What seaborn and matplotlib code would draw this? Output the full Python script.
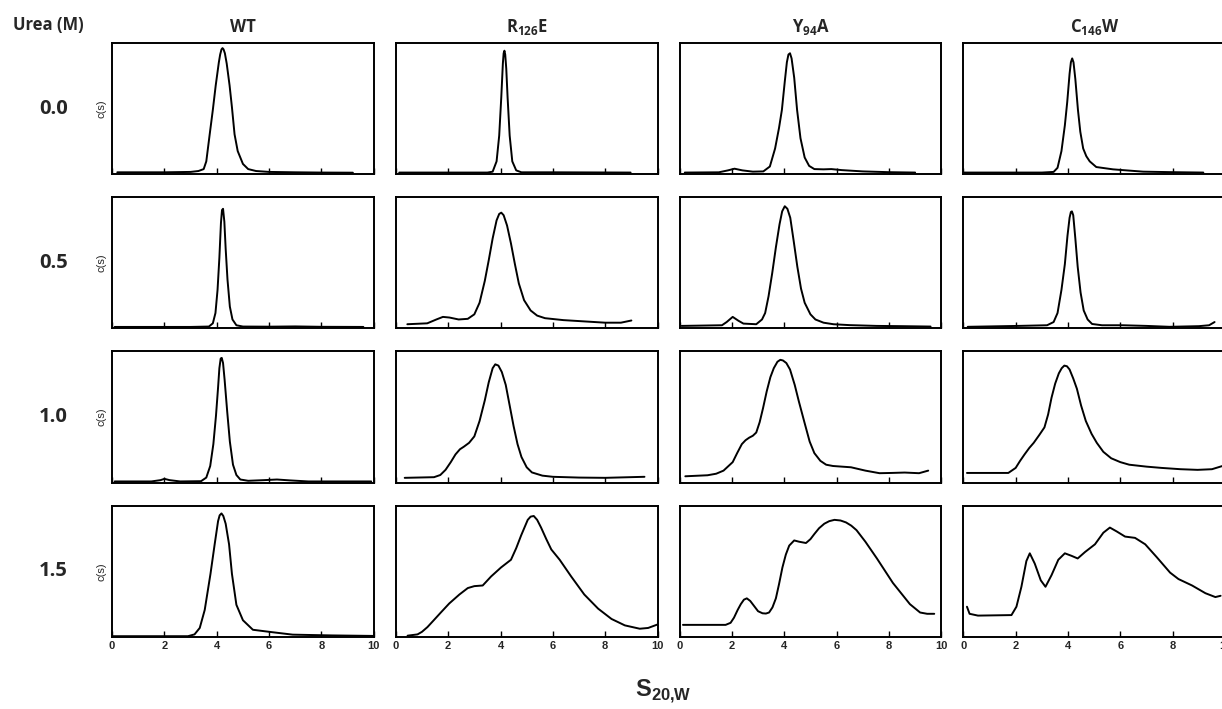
import matplotlib
matplotlib.use("Agg")
import matplotlib.pyplot as plt
import seaborn as sns

# c(s) distributions, y as fraction of panel height
wt_00_x = [0.2, 2.0, 3.0, 3.3, 3.5, 3.6, 3.73, 3.85, 3.96, 4.08, 4.13, 4.18, 4.22, 4.26, 4.31, 4.38, 4.49, 4.58, 4.68, 4.8, 5.0, 5.2, 5.5, 6.0, 7.0, 8.0, 9.2]
wt_00_y = [0.015, 0.015, 0.018, 0.025, 0.04, 0.1, 0.31, 0.5, 0.69, 0.87, 0.93, 0.97, 0.98, 0.97, 0.94, 0.86, 0.69, 0.52, 0.31, 0.18, 0.08, 0.04, 0.025, 0.018, 0.015, 0.013, 0.012]
wt_05_x = [0.1, 3.0, 3.7, 3.85, 3.95, 4.03, 4.1, 4.16, 4.2, 4.24, 4.29, 4.34, 4.41, 4.5, 4.6, 4.75, 5.0, 6.0, 7.0, 8.0, 9.6]
wt_05_y = [0.012, 0.012, 0.015, 0.04, 0.12, 0.3, 0.55, 0.82, 0.92, 0.93, 0.83, 0.62, 0.38, 0.17, 0.07, 0.025, 0.015, 0.014, 0.016, 0.013, 0.012]
wt_10_x = [0.1, 1.5, 1.85, 2.0, 2.2, 2.6, 3.4, 3.6, 3.75, 3.87, 3.97, 4.05, 4.1, 4.15, 4.19, 4.24, 4.3, 4.4, 4.5, 4.62, 4.75, 4.9, 5.2, 5.8, 6.3, 6.8, 7.5, 9.9]
wt_10_y = [0.01, 0.01, 0.02, 0.03, 0.02, 0.01, 0.012, 0.04, 0.13, 0.3, 0.52, 0.74, 0.89, 0.965, 0.97, 0.93, 0.8, 0.55, 0.32, 0.14, 0.06, 0.025, 0.015, 0.02, 0.025, 0.018, 0.01, 0.01]
wt_15_x = [0.0, 2.9, 3.15, 3.35, 3.54, 3.76, 3.92, 4.05, 4.11, 4.18, 4.25, 4.34, 4.47, 4.58, 4.75, 5.0, 5.38, 6.0, 6.9, 8.4, 10.0]
wt_15_y = [0.006, 0.006, 0.02, 0.07, 0.21, 0.49, 0.72, 0.9, 0.945, 0.96, 0.94, 0.88, 0.72, 0.49, 0.25, 0.13, 0.056, 0.04, 0.018, 0.012, 0.008]

r126e_00_x = [0.13, 3.5, 3.7, 3.85, 3.95, 4.03, 4.09, 4.12, 4.15, 4.18, 4.22, 4.27, 4.35, 4.45, 4.6, 4.8, 6.0, 8.97]
r126e_00_y = [0.013, 0.013, 0.02, 0.1, 0.3, 0.6, 0.86, 0.94, 0.96, 0.93, 0.82, 0.6, 0.3, 0.1, 0.03, 0.015, 0.015, 0.013]
r126e_05_x = [0.44, 1.2, 1.55, 1.8, 2.05, 2.4, 2.75, 3.0, 3.2, 3.4, 3.55, 3.7, 3.85, 3.95, 4.03, 4.12, 4.25, 4.4, 4.55, 4.7, 4.9, 5.15, 5.4, 5.7, 6.4, 7.2, 8.0, 8.6, 9.0]
r126e_05_y = [0.033, 0.04, 0.07, 0.09, 0.085, 0.07, 0.075, 0.11, 0.2, 0.37, 0.53, 0.7, 0.84, 0.89, 0.9, 0.88, 0.8, 0.66, 0.5, 0.35, 0.22, 0.14, 0.1, 0.08, 0.065, 0.055, 0.045, 0.045, 0.062]
r126e_10_x = [0.34, 1.46, 1.7, 1.9, 2.1, 2.28, 2.45, 2.6, 2.8, 3.0, 3.2, 3.4, 3.55, 3.7, 3.8, 3.92, 4.05, 4.2, 4.35, 4.5, 4.65, 4.8, 5.0, 5.2, 5.6, 6.0, 7.0, 8.0, 9.5]
r126e_10_y = [0.038, 0.043, 0.06, 0.1, 0.16, 0.22, 0.26, 0.28, 0.31, 0.36, 0.48, 0.64, 0.78, 0.89, 0.92, 0.91, 0.86, 0.76, 0.6, 0.44, 0.3, 0.2, 0.12, 0.08, 0.055, 0.046, 0.04, 0.038, 0.046]
r126e_15_x = [0.45, 0.83, 1.0, 1.21, 1.45, 1.72, 2.04, 2.43, 2.75, 3.0, 3.32, 3.64, 4.02, 4.4, 4.6, 4.79, 5.04, 5.15, 5.27, 5.4, 5.55, 5.75, 5.94, 6.26, 6.7, 7.2, 7.73, 8.24, 8.75, 9.32, 9.64, 10.0]
r126e_15_y = [0.01, 0.02, 0.04, 0.077, 0.13, 0.19, 0.26, 0.33, 0.38, 0.395, 0.4, 0.47, 0.54, 0.6, 0.69, 0.79, 0.91, 0.935, 0.94, 0.91, 0.85, 0.76, 0.68, 0.6, 0.47, 0.33, 0.22, 0.14, 0.09, 0.064, 0.07, 0.097]

y94a_00_x = [0.2, 1.5, 1.85, 2.1, 2.4, 2.8, 3.2, 3.45, 3.65, 3.8, 3.91, 4.02, 4.1, 4.16, 4.22, 4.28, 4.38, 4.49, 4.62, 4.78, 4.95, 5.15, 5.5, 5.8, 6.2, 7.0, 8.0, 9.0]
y94a_00_y = [0.013, 0.015, 0.03, 0.043, 0.03, 0.02, 0.022, 0.06, 0.2, 0.36, 0.5, 0.72, 0.87, 0.93, 0.94, 0.9, 0.75, 0.5, 0.28, 0.13, 0.065, 0.04, 0.038, 0.04, 0.032, 0.022, 0.016, 0.013]
y94a_05_x = [0.08, 1.62, 1.8, 2.03, 2.25, 2.44, 2.93, 3.15, 3.27, 3.4, 3.54, 3.68, 3.82, 3.92, 4.02, 4.12, 4.23, 4.36, 4.5, 4.64, 4.78, 5.0, 5.19, 5.5, 5.88, 6.5, 7.53, 8.5, 9.59]
y94a_05_y = [0.02, 0.025, 0.05, 0.09, 0.06, 0.038, 0.033, 0.07, 0.12, 0.25, 0.43, 0.63, 0.81, 0.91, 0.95, 0.93, 0.86, 0.68, 0.48, 0.31, 0.2, 0.11, 0.07, 0.045, 0.033, 0.026, 0.02, 0.018, 0.015]
y94a_10_x = [0.22, 1.07, 1.4, 1.68, 2.03, 2.2, 2.38, 2.52, 2.66, 2.8, 2.93, 3.06, 3.19, 3.33, 3.47, 3.6, 3.74, 3.85, 3.95, 4.08, 4.22, 4.4, 4.56, 4.77, 4.97, 5.15, 5.38, 5.6, 5.86, 6.2, 6.55, 7.1, 7.64, 8.1, 8.6, 9.15, 9.5]
y94a_10_y = [0.05, 0.058, 0.07, 0.094, 0.16, 0.23, 0.3, 0.33, 0.35, 0.365, 0.39, 0.47, 0.58, 0.71, 0.82, 0.89, 0.94, 0.955, 0.95, 0.93, 0.88, 0.76, 0.63, 0.47, 0.32, 0.23, 0.17, 0.14, 0.13, 0.125, 0.12, 0.094, 0.074, 0.076, 0.079, 0.074, 0.094]
y94a_15_x = [0.13, 1.76, 1.95, 2.08, 2.22, 2.34, 2.46, 2.57, 2.7, 2.85, 3.0, 3.17, 3.3, 3.42, 3.55, 3.68, 3.8, 3.93, 4.06, 4.19, 4.38, 4.57, 4.83, 5.0, 5.15, 5.33, 5.53, 5.72, 5.92, 6.15, 6.36, 6.56, 6.76, 7.1, 7.54, 8.15, 8.8, 9.19, 9.46, 9.73]
y94a_15_y = [0.094, 0.094, 0.11, 0.15, 0.21, 0.255, 0.29, 0.3, 0.28, 0.24, 0.2, 0.184, 0.182, 0.19, 0.23, 0.3, 0.41, 0.54, 0.64, 0.71, 0.75, 0.74, 0.73, 0.76, 0.8, 0.845, 0.88, 0.9, 0.91, 0.905, 0.89, 0.865, 0.83, 0.74, 0.61, 0.42, 0.255, 0.19, 0.18, 0.18]

c146w_00_x = [0.0, 3.0, 3.45, 3.6, 3.75, 3.88, 3.97, 4.06, 4.11, 4.16, 4.21, 4.28, 4.38, 4.47, 4.58, 4.7, 4.83, 5.08, 5.72, 6.87, 8.0, 9.17]
c146w_00_y = [0.013, 0.013, 0.018, 0.05, 0.18, 0.38, 0.56, 0.78, 0.87, 0.9, 0.87, 0.74, 0.5, 0.33, 0.2, 0.14, 0.1, 0.056, 0.038, 0.02, 0.016, 0.013]
c146w_05_x = [0.17, 2.1, 3.2, 3.45, 3.6, 3.75, 3.88, 3.98, 4.06, 4.11, 4.15, 4.2, 4.28, 4.37, 4.48, 4.6, 4.75, 4.92, 5.3, 6.09, 7.0, 7.88, 9.0, 9.39, 9.6]
c146w_05_y = [0.013, 0.02, 0.025, 0.05, 0.12, 0.3, 0.5, 0.72, 0.86, 0.905, 0.91, 0.88, 0.7, 0.48, 0.28, 0.14, 0.07, 0.035, 0.025, 0.025, 0.02, 0.013, 0.018, 0.025, 0.05]
c146w_10_x = [0.14, 1.72, 2.0, 2.17, 2.34, 2.52, 2.69, 2.9, 3.1, 3.24, 3.37, 3.51, 3.65, 3.76, 3.86, 3.96, 4.06, 4.2, 4.34, 4.5, 4.68, 4.9, 5.1, 5.35, 5.65, 6.0, 6.34, 7.0, 7.58, 8.3, 8.95, 9.5, 9.9]
c146w_10_y = [0.076, 0.076, 0.115, 0.17, 0.22, 0.27, 0.31, 0.37, 0.43, 0.53, 0.66, 0.77, 0.85, 0.89, 0.91, 0.905, 0.88, 0.81, 0.73, 0.6, 0.48, 0.38, 0.31, 0.24, 0.19, 0.16, 0.14, 0.125, 0.115, 0.105, 0.1, 0.105, 0.13]
c146w_15_x = [0.14, 0.24, 0.56, 1.84, 2.03, 2.22, 2.41, 2.54, 2.73, 2.96, 3.14, 3.37, 3.63, 3.88, 4.14, 4.37, 4.65, 5.03, 5.35, 5.6, 5.86, 6.18, 6.56, 6.95, 7.39, 7.9, 8.22, 8.74, 9.25, 9.63, 9.83]
c146w_15_y = [0.235, 0.18, 0.166, 0.17, 0.235, 0.39, 0.59, 0.65, 0.57, 0.44, 0.39, 0.48, 0.6, 0.65, 0.63, 0.61, 0.66, 0.72, 0.81, 0.85, 0.82, 0.78, 0.77, 0.72, 0.62, 0.5, 0.45, 0.4, 0.34, 0.31, 0.32]

mutants = ["WT", "R$_{\\mathbf{126}}$E", "Y$_{\\mathbf{94}}$A", "C$_{\\mathbf{146}}$W"]
urea = ["0.0", "0.5", "1.0", "1.5"]
x_ticks = [0, 2, 4, 6, 8, 10]

curves = [
    [(wt_00_x, wt_00_y), (r126e_00_x, r126e_00_y), (y94a_00_x, y94a_00_y), (c146w_00_x, c146w_00_y)],
    [(wt_05_x, wt_05_y), (r126e_05_x, r126e_05_y), (y94a_05_x, y94a_05_y), (c146w_05_x, c146w_05_y)],
    [(wt_10_x, wt_10_y), (r126e_10_x, r126e_10_y), (y94a_10_x, y94a_10_y), (c146w_10_x, c146w_10_y)],
    [(wt_15_x, wt_15_y), (r126e_15_x, r126e_15_y), (y94a_15_x, y94a_15_y), (c146w_15_x, c146w_15_y)],
]

sns.set_style("ticks")
plt.rcParams["font.family"] = ["Open Sans", "DejaVu Sans"]
plt.rcParams["mathtext.fontset"] = "custom"
plt.rcParams["mathtext.rm"] = "Open Sans"
plt.rcParams["mathtext.bf"] = "Open Sans:bold"
plt.rcParams["mathtext.sf"] = "Liberation Sans:bold"

fig, axes = plt.subplots(4, 4, figsize=(12.22, 7.09), dpi=100)
fig.subplots_adjust(left=0.0917, right=1.0025, top=0.9394, bottom=0.1016,
                    wspace=0.084, hspace=0.175)

for i in range(4):
    for j in range(4):
        ax = axes[i, j]
        xs, ys = curves[i][j]
        sns.lineplot(x=xs, y=ys, ax=ax, color="black", linewidth=1.4,
                     sort=False, estimator=None)
        ax.set_xlim(0, 10)
        ax.set_ylim(0, 1.02)
        ax.set_xticks(x_ticks)
        ax.set_yticks([])
        ax.tick_params(axis="x", direction="in", length=4, width=1, color="black",
                       labelbottom=(i == 3), labelsize=8, pad=3)
        for lab in ax.get_xticklabels():
            lab.set_fontweight("bold")
            lab.set_family("Liberation Sans")
        for sp in ax.spines.values():
            sp.set_visible(True)
            sp.set_linewidth(1.4)
            sp.set_color("black")
        if j == 0:
            ax.set_ylabel("c(s)", fontsize=8, family="Liberation Sans", labelpad=4)
            pos = ax.get_position()
            fig.text(0.0556, (pos.y0 + pos.y1) / 2, urea[i], ha="right", va="center",
                     fontsize=14.5, fontweight="bold")
        if i == 0:
            ax.set_title(mutants[j], fontsize=12, fontweight="bold", pad=8)

fig.text(13 / 1222, 1 - 25 / 709, "Urea (M)", ha="left", va="center",
         fontsize=12, fontweight="bold")
fig.text(663 / 1222, 1 - 691 / 709, "$\\mathsf{S}_{\\mathsf{20{,}W}}$", ha="center",
         va="center", fontsize=17)

fig.savefig("out.png", dpi=100)
